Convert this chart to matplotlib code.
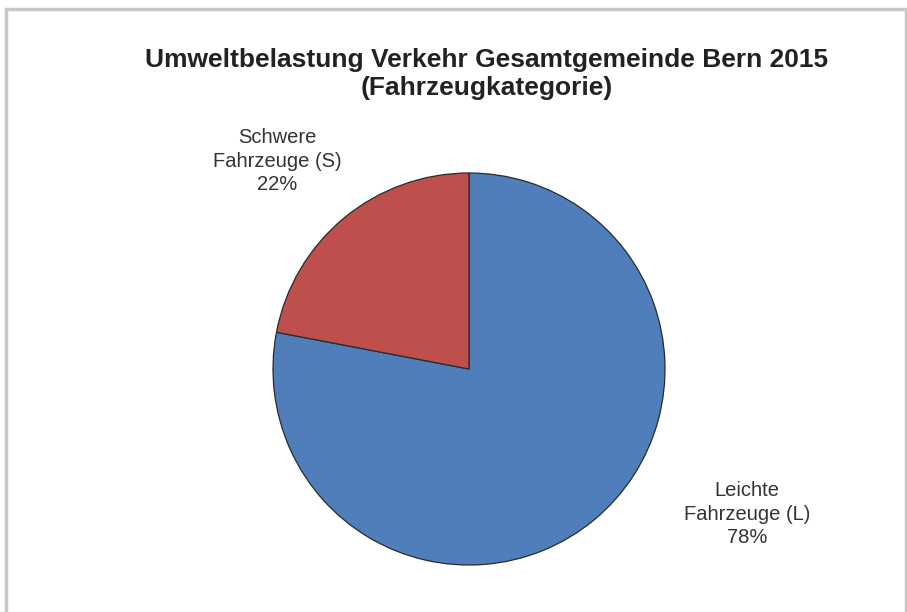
import matplotlib.pyplot as plt
from matplotlib.patches import Rectangle

# Verkehr Bern 2015, Anteil nach Fahrzeugkategorie
categories = ['Leichte\nFahrzeuge (L)', 'Schwere\nFahrzeuge (S)']
shares = [78, 22]
colors = ['#4F7EBB', '#BE4F4C']

plt.rcParams['font.family'] = ['Liberation Sans', 'DejaVu Sans']

fig = plt.figure(figsize=(9.07, 6.12), dpi=100)
fig.patch.set_facecolor('white')

# grey frame of the chart area
fig.add_artist(Rectangle((6 / 907, -0.01), 900 / 907, 1 - 9 / 612 + 0.01,
                         transform=fig.transFigure, fill=False,
                         edgecolor='#c8c8c8', linewidth=2.5))

ax = fig.add_axes([273 / 907, 47 / 612, 392 / 907, 392 / 612])
wedges, texts = ax.pie(shares, colors=colors, startangle=90, counterclock=False,
                       radius=1.0, wedgeprops=dict(edgecolor='#2a2a2a', linewidth=0.9))
ax.set_xlim(-1, 1)
ax.set_ylim(-1, 1)
ax.set_aspect('equal')

label_pos = [(1.42, -0.74), (-0.98, 1.06)]
for cat, val, pos in zip(categories, shares, label_pos):
    ax.text(pos[0], pos[1], f'{cat}\n{val}%', ha='center', va='center',
            fontsize=14.5, color='#333333', linespacing=1.3)

fig.text(487 / 907, 1 - 74 / 612,
         'Umweltbelastung Verkehr Gesamtgemeinde Bern 2015\n(Fahrzeugkategorie)',
         ha='center', va='center', fontsize=19, fontweight='bold',
         color='#222222', linespacing=1.22)

fig.savefig('out.png', dpi=100)
